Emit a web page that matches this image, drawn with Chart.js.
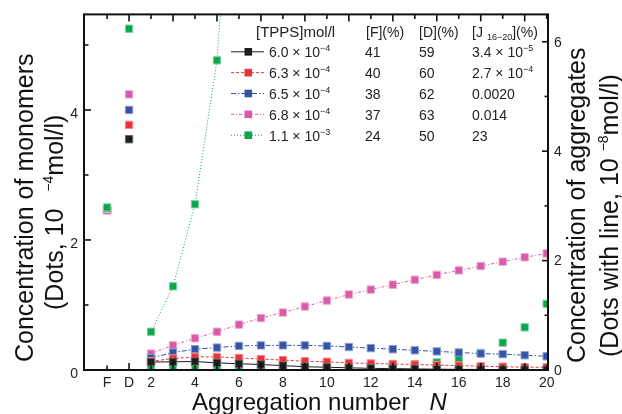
<!DOCTYPE html>
<html>
<head>
<meta charset="utf-8">
<script src="https://cdn.jsdelivr.net/npm/chart.js@4.4.1/dist/chart.umd.min.js"></script>
<style>
  html, body { margin: 0; padding: 0; background: #fff; }
  #wrap { width: 622px; height: 414px; }
</style>
</head>
<body>
<div id="wrap"><canvas id="grafico" width="622" height="414"></canvas></div>
<script>
// eixo x: F e D ficam em 0 e 1, depois N = 2..20
const nAgreg = [2, 3, 4, 5, 6, 7, 8, 9, 10, 11, 12, 13, 14, 15, 16, 17, 18, 19, 20];
const xTickValores = [0, 1, 2, 4, 6, 8, 10, 12, 14, 16, 18, 20];
const xTickTextos = ['F', 'D', '2', '4', '6', '8', '10', '12', '14', '16', '18', '20'];
const yMonoTicks = [0, 2, 4];
const yAgregTicks = [0, 2, 4, 6];

// tabela da legenda
const tppsConc = ['6.0e−4', '6.3e−4', '6.5e−4', '6.8e−4', '1.1e−3'];
const pctF = ['41', '40', '38', '37', '24'];
const pctD = ['59', '60', '62', '63', '50'];
const pctJ = ['3.4e−5', '2.7e−4', '0.0020', '0.014', '23'];

// monomeros (eixo da esquerda, 10^-4 mol/l) em F e D
const monoF = [2.46, 2.46, 2.47, 2.48, 2.50];
const monoD = [3.55, 3.77, 4.00, 4.24, 5.25];

// agregados N = 2..20 (eixo da direita, 10^-8 mol/l)
const agreg60 = [0.145, 0.15, 0.155, 0.13, 0.115, 0.10, 0.08, 0.06, 0.05, 0.04, 0.03, 0.025, 0.02, 0.015, 0.012, 0.01, 0.008, 0.006, 0.005];
const agreg63 = [0.16, 0.21, 0.24, 0.24, 0.22, 0.20, 0.18, 0.16, 0.15, 0.13, 0.12, 0.11, 0.10, 0.09, 0.08, 0.07, 0.06, 0.05, 0.05];
const agreg65 = [0.22, 0.32, 0.38, 0.41, 0.44, 0.45, 0.45, 0.45, 0.44, 0.42, 0.40, 0.38, 0.36, 0.34, 0.32, 0.30, 0.29, 0.27, 0.25];
const agreg68 = [0.30, 0.45, 0.58, 0.70, 0.83, 0.95, 1.05, 1.16, 1.27, 1.38, 1.47, 1.56, 1.65, 1.74, 1.82, 1.90, 1.98, 2.06, 2.13];
const agreg110 = [0.70, 1.53, 3.03, 5.66, 11.3]; // so N = 2..6, o resto sai da escala
const pontos110 = [0.02, 0.02, 0.02, 0.02, 0.02, 0.02, 0.02, 0.02, 0.03, 0.04, 0.06, 0.08, 0.10, 0.14, 0.21, 0.31, 0.50, 0.78, 1.21];

const cores = ['#1e1e1e', '#ec3239', '#3653a6', '#d95aa9', '#0aa64b'];
const bordas = ['#6a6a6a', '#f58a8e', '#8d9fd0', '#eba6d0', '#7fd3a3'];
const tracos = [[], [3, 2], [5, 2, 1.5, 2], [3, 2, 1, 2], [1, 2]];
const fonte = "'Liberation Sans', Arial, sans-serif";

Chart.defaults.font.family = fonte;
Chart.defaults.color = '#222';

function pares(xs, ys) {
    return ys.map((y, i) => ({ x: xs[i], y: y }));
}

function serieLinha(i, valores) {
    return {
        data: pares(nAgreg, valores),
        yAxisID: 'yAgreg',
        showLine: true,
        borderColor: cores[i],
        borderWidth: 1,
        borderDash: tracos[i],
        pointStyle: 'rect',
        pointRadius: 5.2,
        pointBackgroundColor: cores[i],
        pointBorderColor: bordas[i],
        pointBorderWidth: 1
    };
}

function serieMono(i) {
    return {
        data: [{ x: 0, y: monoF[i] }, { x: 1, y: monoD[i] }],
        yAxisID: 'yMono',
        showLine: false,
        pointStyle: 'rect',
        pointRadius: 5.2,
        pointBackgroundColor: cores[i],
        pointBorderColor: bordas[i],
        pointBorderWidth: 1
    };
}

const datasets = [
    serieLinha(0, agreg60),
    serieLinha(1, agreg63),
    serieLinha(2, agreg65),
    serieLinha(3, agreg68),
    serieLinha(4, agreg110),
    {
        data: pares(nAgreg, pontos110),
        yAxisID: 'yAgreg',
        showLine: false,
        pointStyle: 'rect',
        pointRadius: 5.2,
        pointBackgroundColor: cores[4],
        pointBorderColor: bordas[4],
        pointBorderWidth: 1
    },
    serieMono(4), serieMono(3), serieMono(2), serieMono(1), serieMono(0)
];

function linha(c, x1, y1, x2, y2) {
    c.beginPath();
    c.moveTo(x1, y1);
    c.lineTo(x2, y2);
    c.stroke();
}

// escreve pedacos de texto em sequencia (expoentes, indices)
function escreve(c, partes, x, y) {
    partes.forEach(p => {
        c.font = p.f;
        c.fillText(p.t, x, y + (p.dy || 0));
        x += c.measureText(p.t).width + (p.gap || 0);
    });
    return x;
}

// "3.4e−5" vira 3.4 × 10 com expoente
function potencia(txt, tam) {
    if (txt.indexOf('e') < 0) return [{ t: txt, f: tam + 'px ' + fonte }];
    const [m, e] = txt.split('e');
    return [
        { t: m + ' × 10', f: tam + 'px ' + fonte },
        { t: e, f: Math.round(tam * 0.64) + 'px ' + fonte, dy: -tam * 0.42 }
    ];
}

const moldura = {
    id: 'moldura',
    afterDatasetsDraw(chart) {
        const c = chart.ctx;
        const a = chart.chartArea;
        const sx = chart.scales.x, sm = chart.scales.yMono, sa = chart.scales.yAgreg;
        c.save();
        c.strokeStyle = '#111';

        // ticks para dentro
        c.lineWidth = 1.6;
        sx.ticks.forEach(t => {
            if (t.value < 0) return;
            const px = sx.getPixelForValue(t.value);
            const tam = t.value % 2 ? 7 : 4.5;
            linha(c, px, a.bottom, px, a.bottom - tam);
            linha(c, px, a.top, px, a.top + tam);
        });
        sm.ticks.forEach(t => {
            const py = sm.getPixelForValue(t.value);
            linha(c, a.left, py, a.left + (t.value % 2 ? 4.5 : 7), py);
        });
        sa.ticks.forEach(t => {
            const py = sa.getPixelForValue(t.value);
            linha(c, a.right, py, a.right - (t.value % 2 ? 3.5 : 6), py);
        });

        c.lineWidth = 2;
        c.strokeRect(a.left, a.top, a.right - a.left, a.bottom - a.top);

        // legenda em forma de tabela
        c.fillStyle = '#222';
        c.textBaseline = 'alphabetic';
        const f14 = '14px ' + fonte;
        escreve(c, [{ t: '[TPPS]mol/l', f: '15px ' + fonte }], 256, 37);
        escreve(c, [{ t: '[F](%)', f: f14 }], 366, 37);
        escreve(c, [{ t: '[D](%)', f: f14 }], 419, 37);
        escreve(c, [
            { t: '[J', f: f14, gap: 4 },
            { t: '16−20', f: '9px ' + fonte, dy: 3 },
            { t: '](%)', f: f14 }
        ], 472, 37);

        tppsConc.forEach((txt, i) => {
            const yb = 57.3 + i * 20.85;
            const ym = yb - 5.5;
            c.save();
            c.strokeStyle = cores[i];
            c.lineWidth = 1;
            c.setLineDash(tracos[i]);
            linha(c, 231, ym, 264, ym);
            c.restore();
            c.fillStyle = cores[i];
            c.fillRect(244.5, ym - 3.8, 7.6, 7.6);
            c.fillStyle = '#222';
            escreve(c, potencia(txt, 14), 269, yb);
            escreve(c, [{ t: pctF[i], f: f14 }], 365, yb);
            escreve(c, [{ t: pctD[i], f: f14 }], 419, yb);
            escreve(c, potencia(pctJ[i], 14), 472, yb);
        });

        // titulos dos eixos
        c.fillStyle = '#111';
        escreve(c, [
            { t: 'Aggregation number', f: '24px ' + fonte, gap: 20 },
            { t: 'N', f: 'italic 24px ' + fonte }
        ], 192, 410);

        const girado = (x, y, partes) => {
            c.save();
            c.translate(x, y);
            c.rotate(-Math.PI / 2);
            escreve(c, partes, 0, 0);
            c.restore();
        };
        const f25 = '25px ' + fonte;
        const sup = '14px ' + fonte;
        girado(33, 362, [{ t: 'Concentration of monomers', f: f25 }]);
        girado(63, 310, [
            { t: '(Dots, 10 ', f: f25, gap: 10 },
            { t: '−4', f: sup, dy: -10 },
            { t: 'mol/l)', f: f25 }
        ]);
        girado(585, 363, [{ t: 'Concentration of aggregates', f: f25 }]);
        girado(618, 357, [
            { t: '(Dots with line, 10 ', f: f25 },
            { t: '−8', f: sup, dy: -10 },
            { t: 'mol/l)', f: f25 }
        ]);
        c.restore();
    }
};

new Chart(document.getElementById('grafico'), {
    type: 'scatter',
    data: { datasets: datasets },
    plugins: [moldura],
    options: {
        responsive: false,
        animation: false,
        devicePixelRatio: 1,
        layout: { padding: { top: 12, left: 0, right: 0, bottom: 0 } },
        plugins: { legend: { display: false }, tooltip: { enabled: false } },
        scales: {
            x: {
                type: 'linear',
                min: -1.05,
                max: 20.06,
                grid: { display: false, drawTicks: false },
                border: { display: false },
                ticks: {
                    stepSize: 1,
                    includeBounds: false,
                    autoSkip: false,
                    maxRotation: 0,
                    padding: 5,
                    font: { size: 14 },
                    callback: v => {
                        const k = xTickValores.indexOf(v);
                        return k < 0 ? '' : xTickTextos[k];
                    }
                },
                afterFit: s => { s.height = 44; }
            },
            yMono: {
                type: 'linear',
                position: 'left',
                min: 0,
                max: 5.47,
                grid: { display: false, drawTicks: false },
                border: { display: false },
                ticks: {
                    stepSize: 1,
                    includeBounds: false,
                    padding: 6,
                    labelOffset: 4,
                    font: { size: 14 },
                    callback: v => yMonoTicks.includes(v) ? String(v) : ''
                },
                afterFit: s => { s.width = 84; }
            },
            yAgreg: {
                type: 'linear',
                position: 'right',
                min: 0,
                max: 6.5,
                grid: { display: false, drawTicks: false },
                border: { display: false },
                ticks: {
                    stepSize: 1,
                    includeBounds: false,
                    padding: 6,
                    labelOffset: 1,
                    font: { size: 14 },
                    callback: v => yAgregTicks.includes(v) ? String(v) : ''
                },
                afterFit: s => { s.width = 74; }
            }
        }
    }
});
</script>
</body>
</html>
